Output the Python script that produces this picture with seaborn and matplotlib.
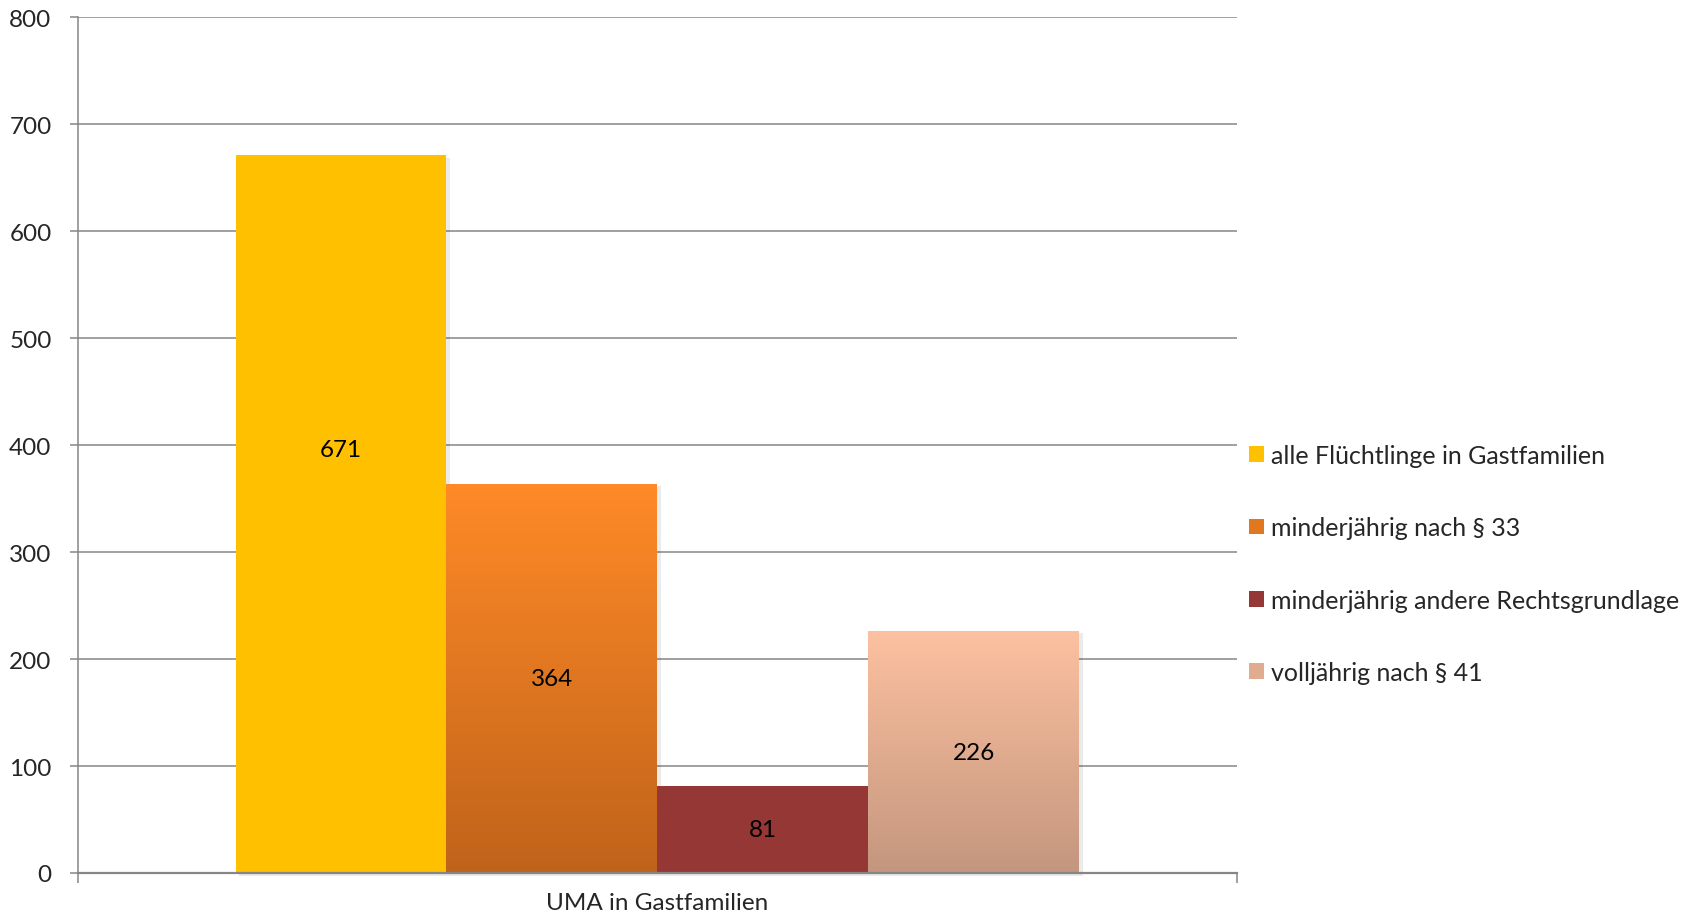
import numpy as np
import pandas as pd
import matplotlib
matplotlib.use("Agg")
import matplotlib.pyplot as plt
from matplotlib.colors import LinearSegmentedColormap, to_rgb
from matplotlib.patches import Patch
import seaborn as sns

categories = ["UMA in Gastfamilien"]
series = ["alle Flüchtlinge in Gastfamilien", "minderjährig nach § 33",
          "minderjährig andere Rechtsgrundlage", "volljährig nach § 41"]
values = [671, 364, 81, 226]
top_colors = ["#FFC000", "#FF8A27", "#953735", "#FCC1A0"]
bottom_colors = ["#FFC000", "#C0631A", "#953735", "#C4967E"]
label_frac = [0.59, 0.5, 0.5, 0.5]
yticks = [0, 100, 200, 300, 400, 500, 600, 700, 800]

df = pd.DataFrame({"Kategorie": categories * len(series), "Reihe": series, "Wert": values})

sns.set_style("white")
plt.rcParams["font.family"] = ["Lato", "DejaVu Sans"]

fig = plt.figure(figsize=(16.94, 9.2), dpi=100)
ax = fig.add_axes([0.046, 0.05, 0.684, 0.930])

mid_colors = [tuple((np.array(to_rgb(t)) + np.array(to_rgb(b))) / 2) for t, b in zip(top_colors, bottom_colors)]
sns.barplot(data=df, x="Kategorie", y="Wert", hue="Reihe", hue_order=series,
            palette=dict(zip(series, mid_colors)), width=0.728, gap=0, ax=ax,
            legend=False, linewidth=0, saturation=1, zorder=3)

ax.set_xlim(-0.5, 0.5)
ax.set_ylim(0, 800)
ax.set_yticks(yticks)

for patch, val, tc, bc, lf in zip(ax.patches, values, top_colors, bottom_colors, label_frac):
    x0 = patch.get_x(); w = patch.get_width(); h = patch.get_height()
    sh = plt.Rectangle((x0 + 0.003, -3), w, h + 1, color="#000000", alpha=0.08, zorder=2, lw=0, clip_on=False)
    ax.add_patch(sh)
    if tc != bc:
        cmap = LinearSegmentedColormap.from_list("g", [bc, tc])
        grad = np.linspace(0, 1, 256).reshape(-1, 1)
        im = ax.imshow(grad, cmap=cmap, origin="lower", aspect="auto",
                       extent=[x0, x0 + w, 0, h], zorder=4)
        im.set_clip_path(patch)
    ax.text(x0 + w / 2, h * lf, str(val), ha="center", va="center", fontsize=17.5, color="black", zorder=6)

ax.set_xlim(-0.5, 0.5)
ax.set_ylim(0, 800)

ax.grid(axis="y", color="#868686", linewidth=1.1, zorder=0)
ax.set_axisbelow(True)
for s in ["top", "right"]:
    ax.spines[s].set_visible(False)
ax.spines["left"].set_color("#868686")
ax.spines["left"].set_linewidth(1.1)
ax.spines["bottom"].set_color("#868686")
ax.spines["bottom"].set_linewidth(1.6)
ax.spines["bottom"].set_zorder(7)

ax.tick_params(axis="y", left=True, length=6, width=1.1, color="#868686", pad=13, labelsize=17.5, direction="out")
ax.tick_params(axis="x", which="major", length=0, pad=14, labelsize=17.5)
ax.set_xticks([-0.5, 0.5], minor=True)
ax.tick_params(axis="x", which="minor", bottom=True, length=7, width=1.1, color="#868686", direction="out")
ax.set_xlabel(""); ax.set_ylabel("")

handles = [Patch(facecolor=c, edgecolor="none") for c in mid_colors]
fig.legend(handles, series, loc="center left", bbox_to_anchor=(0.7312, 0.386), frameon=False,
           fontsize=18, labelspacing=1.97, handlelength=0.6, handleheight=0.6, handletextpad=0.3,
           borderaxespad=0)

fig.savefig("out.png", dpi=100, facecolor="white")
